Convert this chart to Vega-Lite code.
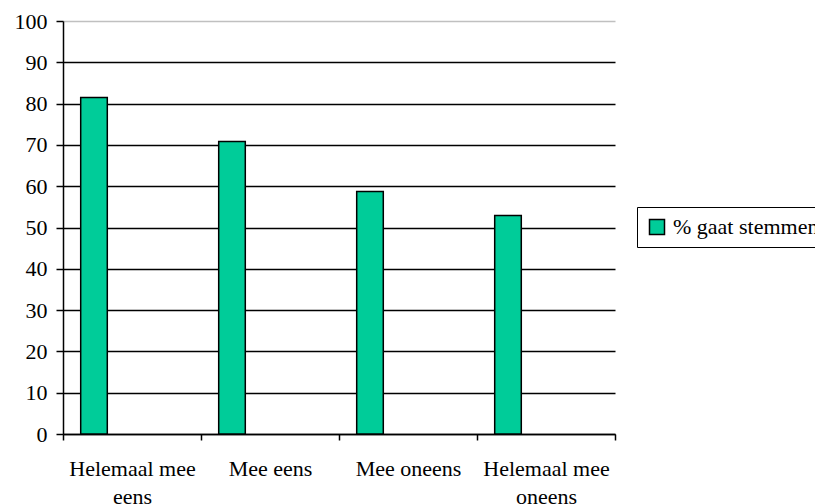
{
  "$schema": "https://vega.github.io/schema/vega-lite/v6.json",
  "autosize": "none",
  "width": 552,
  "height": 413,
  "padding": {"left": 63, "top": 21, "right": 200, "bottom": 70},
  "background": "white",
  "config": {
    "view": {"stroke": null},
    "font": "Liberation Serif"
  },
  "data": {
    "values": [
      {"categorie": "Helemaal mee eens", "serie": "% gaat stemmen", "waarde": 81.5},
      {"categorie": "Mee eens", "serie": "% gaat stemmen", "waarde": 70.8},
      {"categorie": "Mee oneens", "serie": "% gaat stemmen", "waarde": 58.7},
      {"categorie": "Helemaal mee oneens", "serie": "% gaat stemmen", "waarde": 52.9}
    ]
  },
  "mark": {"type": "bar", "stroke": "black", "strokeWidth": 1.5},
  "encoding": {
    "x": {
      "field": "categorie",
      "type": "nominal",
      "sort": null,
      "scale": {"paddingInner": 0, "paddingOuter": 0},
      "axis": {
        "title": null,
        "labelAngle": 0,
        "tickBand": "extent",
        "domainColor": "black",
        "domainWidth": 1.5,
        "tickColor": "black",
        "tickWidth": 1.5,
        "tickSize": 6,
        "labelFont": "Liberation Serif",
        "labelFontSize": 22,
        "labelColor": "black",
        "labelPadding": 18,
        "labelLineHeight": 28,
        "labelBaseline": "top",
        "labelLimit": 200,
        "labelExpr": "datum.label == 'Helemaal mee eens' ? ['Helemaal mee', 'eens'] : datum.label == 'Helemaal mee oneens' ? ['Helemaal mee', 'oneens'] : datum.label",
        "grid": false
      }
    },
    "xOffset": {
      "field": "serie",
      "type": "nominal",
      "scale": {
        "domain": ["% gaat stemmen", "s2", "s3", "s4"],
        "paddingInner": 0,
        "paddingOuter": 0.594,
        "align": 0.56
      }
    },
    "y": {
      "field": "waarde",
      "type": "quantitative",
      "scale": {"domain": [0, 100], "nice": false},
      "axis": {
        "title": null,
        "values": [0, 10, 20, 30, 40, 50, 60, 70, 80, 90, 100],
        "grid": true,
        "gridColor": {"condition": {"test": "datum.value === 100", "value": "#c0c0c0"}, "value": "black"},
        "gridWidth": 1.5,
        "domainColor": "black",
        "domainWidth": 1.5,
        "tickColor": "black",
        "tickWidth": 1.5,
        "tickSize": 7,
        "labelFont": "Liberation Serif",
        "labelFontSize": 22,
        "labelColor": "black",
        "labelPadding": 9
      }
    },
    "color": {
      "field": "serie",
      "type": "nominal",
      "scale": {"domain": ["% gaat stemmen"], "range": ["#00CC99"]},
      "legend": {
        "title": null,
        "orient": "none",
        "legendX": 574,
        "legendY": 186,
        "strokeColor": "black",
        "padding": 9,
        "symbolType": "square",
        "symbolSize": 225,
        "symbolStrokeColor": "black",
        "symbolStrokeWidth": 1.5,
        "symbolOpacity": 1,
        "labelFont": "Liberation Serif",
        "labelFontSize": 22,
        "labelColor": "black",
        "labelOffset": 5,
        "labelLimit": 300
      }
    }
  }
}
